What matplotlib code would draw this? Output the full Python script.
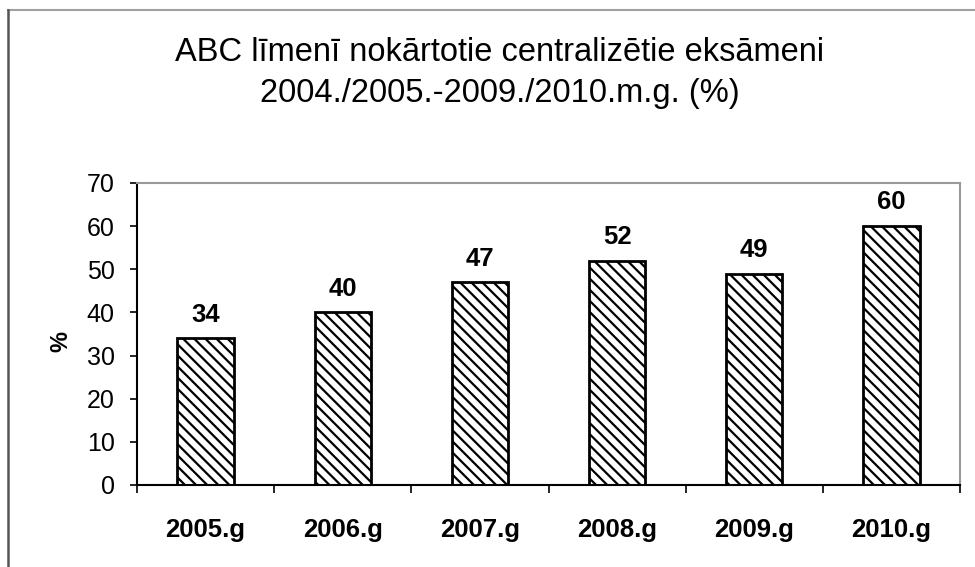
import matplotlib.pyplot as plt
from matplotlib.lines import Line2D

categories = ['2005.g', '2006.g', '2007.g', '2008.g', '2009.g', '2010.g']
values = [34, 40, 47, 52, 49, 60]
y_ticks = [0, 10, 20, 30, 40, 50, 60, 70]
title_lines = ['ABC līmenī nokārtotie centralizētie eksāmeni',
               '2004./2005.-2009./2010.m.g. (%)']

plt.rcParams['font.family'] = ['Liberation Sans', 'DejaVu Sans']
plt.rcParams['hatch.linewidth'] = 1.6

W, H = 975, 567
fig = plt.figure(figsize=(W / 100, H / 100), dpi=100)
ax = fig.add_axes([137 / W, 1 - 485 / H, (960 - 137) / W, (485 - 183) / H])

# Bars
x = list(range(len(categories)))
ax.bar(x, values, width=0.41, color='white', edgecolor='black',
       linewidth=2, hatch='\\\\\\')

# Value labels above bars
for xi, v in zip(x, values):
    ax.annotate(str(v), (xi, v), xytext=(0, 12), textcoords='offset points',
                ha='center', va='baseline', fontsize=18.5, fontweight='bold')

ax.set_xlim(-0.5, len(categories) - 0.5)
ax.set_ylim(0, 70)
ax.set_yticks(y_ticks)
ax.tick_params(axis='y', labelsize=18, length=5, width=1.2, direction='out', pad=11)

# Category labels centred under bars, ticks between categories
ax.set_xticks([i - 0.5 for i in range(len(categories) + 1)])
ax.set_xticklabels([])
ax.tick_params(axis='x', length=6, width=1.2, direction='out')
label_y = (485 - 537) / (485 - 183)
for xi, c in zip(x, categories):
    ax.text(xi, label_y, c, transform=ax.get_xaxis_transform(), ha='center',
            va='baseline', fontsize=18.5, fontweight='bold')

ax.set_ylabel('%', fontsize=17, fontweight='bold')
ax.yaxis.set_label_coords((72 - 137) / (960 - 137), (485 - 342) / (485 - 183))

for side in ['left', 'bottom']:
    ax.spines[side].set_color('black')
    ax.spines[side].set_linewidth(1.5)
for side in ['top', 'right']:
    ax.spines[side].set_color('#999999')
    ax.spines[side].set_linewidth(1.5)

# Title, two lines
fig.text(500 / W, 1 - 61 / H, title_lines[0], ha='center', va='baseline', fontsize=23.5)
fig.text(500 / W, 1 - 102 / H, title_lines[1], ha='center', va='baseline', fontsize=23.5)

# Outer frame (top and left edges visible)
fig.add_artist(Line2D([8 / W, 1], [1 - 10 / H] * 2, color='#a0a0a0', lw=1.5,
                      transform=fig.transFigure))
fig.add_artist(Line2D([8 / W] * 2, [0, 1 - 10 / H], color='#555555', lw=1.8,
                      transform=fig.transFigure))

fig.savefig('out.png', dpi=100)
